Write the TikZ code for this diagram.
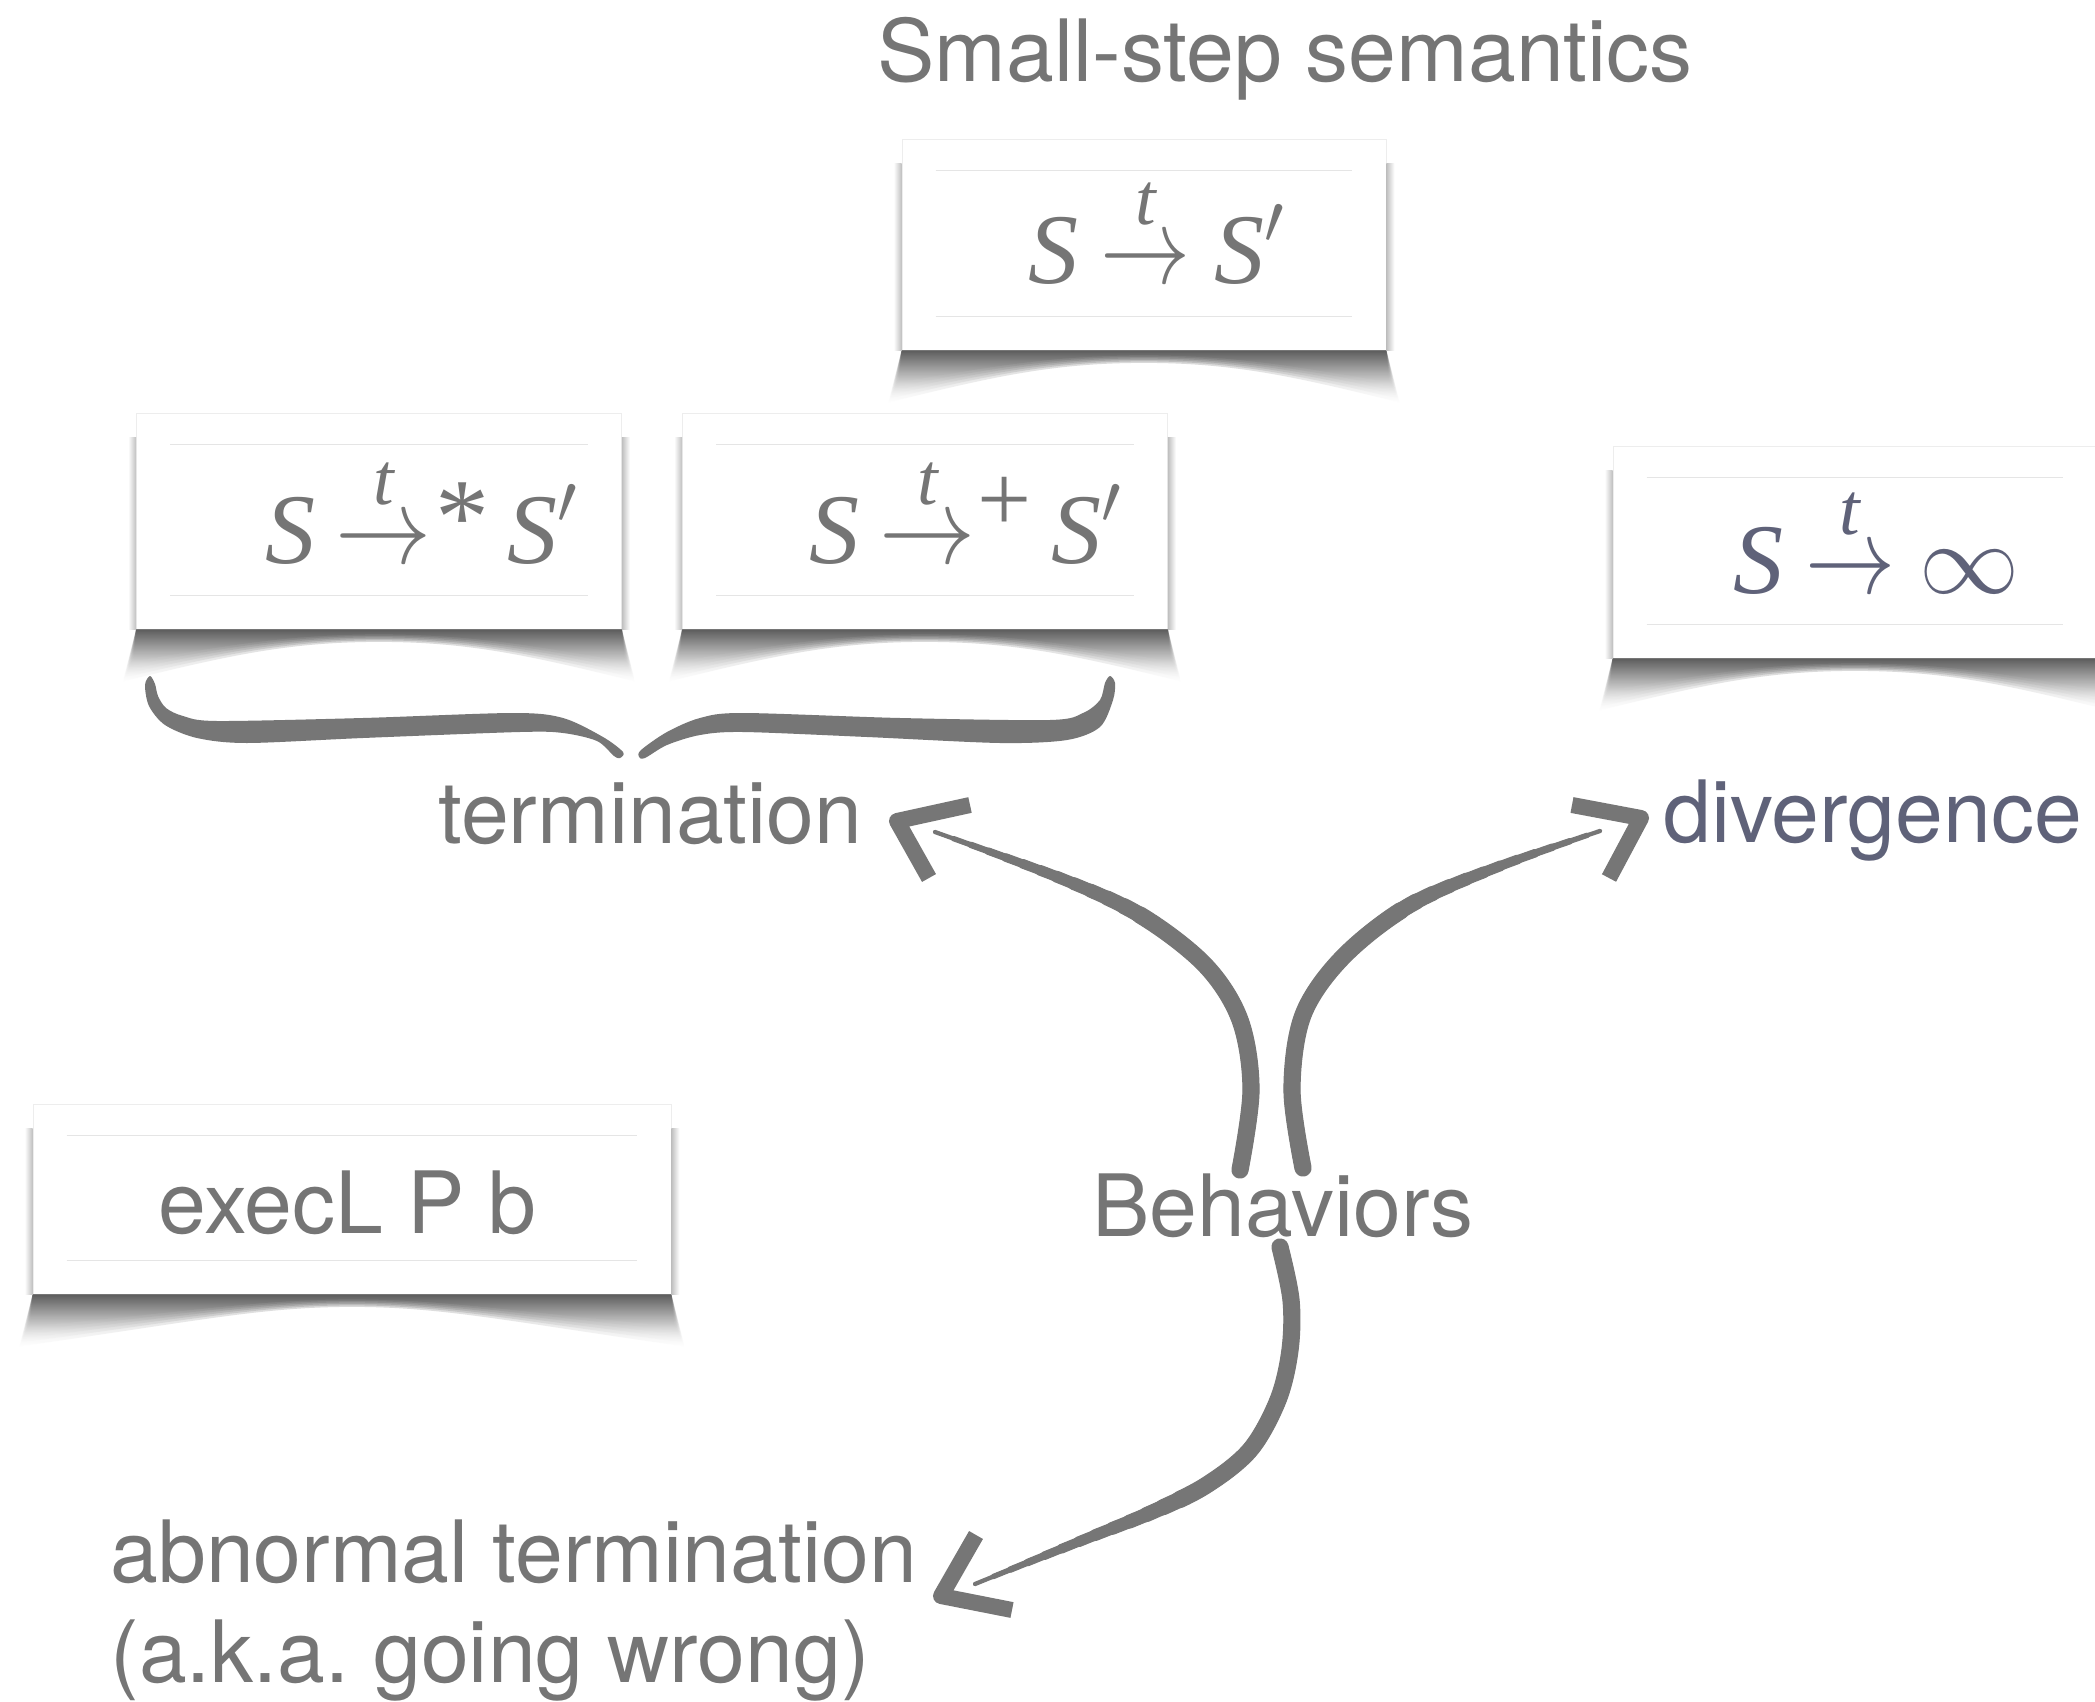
\documentclass[tikz,border=0pt]{standalone}
\usepackage{fix-cm}
\usepackage{amsmath}
\usepackage{graphicx}
\usepackage{fontspec}
\setmainfont{TeX Gyre Heros}
\newfontfamily\tms{Liberation Serif}
\usetikzlibrary{calc}
\frenchspacing
\definecolor{tgray}{HTML}{757575}
\definecolor{tblue}{HTML}{5F6279}
\definecolor{agray}{HTML}{767676}
\newcommand\Sv{{\tms\itshape S}}
\newcommand\Spr{$\mbox{\Sv}'$}
\newcommand\tarrow[1]{\mbox{\ooalign{\hidewidth\raisebox{29.5pt}{\fontsize{37}{37}\selectfont\tms\itshape t}\hidewidth\cr\scalebox{#1}[1.1]{$\to$}\cr}}}
\newcommand\cardshadow[1]{%
  \foreach \d in {0,...,5}{%
    \shade[top color=black!78, bottom color=white, opacity=0.24]
      (#1.south west) -- ($(#1.south west)+(-3-2*\d,32+4*\d)$)
      .. controls ($(#1.south)+(-150,16+2*\d)$) and ($(#1.south)+(-90,5+1.5*\d)$) .. ($(#1.south)+(0,5+1.5*\d)$)
      .. controls ($(#1.south)+(90,5+1.5*\d)$) and ($(#1.south)+(150,16+2*\d)$) .. ($(#1.south east)+(3+2*\d,32+4*\d)$)
      -- (#1.south east) -- cycle;}
  \shade[left color=white, right color=black!25] ($(#1.south west)+(-8,0)$) rectangle ($(#1.north west)+(0,25)$);
  \shade[right color=white, left color=black!25] ($(#1.south east)+(8,0)$) rectangle ($(#1.north east)+(0,25)$);
  \draw[rule] ($(#1.north west)+(34,32)$) -- ($(#1.north east)+(-34,32)$);
  \draw[rule] ($(#1.south west)+(34,-34)$) -- ($(#1.south east)+(-34,-34)$);}
% tapered brush stroke: thick for most of the way, thinning towards the end
\newcommand\taper[1]{%
  \foreach \k in {0,...,12} {%
    \pgfmathsetmacro\ww{8.6*(1-0.75*\k/12)}%
    \pgfmathsetmacro\ll{150+110*\k/12+(\k==12 ? 300 : 0)}%
    \draw[agray, line width=\ww pt, line cap=round, dash pattern=on \ll pt off 3000pt] #1;
  }}
\tikzset{
  lbl/.style={font=\fontsize{43}{50}\selectfont, text=tgray, inner sep=0pt, anchor=base west},
  fml/.style={font=\fontsize{50}{60}\selectfont, text=tgray, inner sep=0pt, anchor=base},
  card/.style={fill=white, draw=black!7, line width=0.4pt, inner sep=0pt},
  rule/.style={draw=black!10, line width=0.5pt},
  head/.style={draw=agray, line width=8pt, line join=round},
  brace/.style={fill=agray},
}
\begin{document}
\begin{tikzpicture}[x=0.5pt,y=-0.5pt]
\useasboundingbox (0,0) rectangle (2095,1702);
\fill[white] (0,0) rectangle (2095,1702);
\clip (0,0) rectangle (2095,1702);

% cards
\node[card, minimum width=242pt, minimum height=105.5pt] (bstep) at (1144,244.5) {};
\node[card, minimum width=242.5pt, minimum height=108pt] (bstar) at (379,521) {};
\node[card, minimum width=242.5pt, minimum height=108pt] (bplus) at (925,521) {};
\node[card, minimum width=242pt, minimum height=106pt] (binf) at (1855,552) {};
\node[card, minimum width=319pt, minimum height=95pt] (bexec) at (352,1199) {};
\cardshadow{bstep}
\cardshadow{bstar}
\cardshadow{bplus}
\cardshadow{binf}
\cardshadow{bexec}

% formulas
\node[fml] (fstep) at (1157,283) {\Sv\hspace{11pt}\tarrow{0.9}\hspace{12pt}\Spr};
\node[fml] (fstar) at (422,563) {\Sv\hspace{10pt}\tarrow{0.96}\hspace{2pt}\raisebox{5pt}{\fontsize{54}{54}\selectfont\tms *}\hspace{9pt}\Spr};
\node[fml] (fplus) at (966,563) {\Sv\hspace{10pt}\tarrow{0.96}\hspace{1pt}\raisebox{16pt}{\fontsize{48}{48}\selectfont\tms +}\hspace{10pt}\Spr};
\node[fml, text=tblue] (finf) at (1876,593) {\Sv\hspace{11pt}\tarrow{0.9}\hspace{12pt}$\infty$};

% labels
\node[lbl] (ttl) at (877,82) {Small-step semantics};
\node[lbl] (term) at (438,843) {termination};
\node[lbl, text=tblue] (div) at (1663,842) {divergence};
\node[lbl] (beh) at (1092,1236) {Behaviors};
\node[lbl] (exec) at (158,1233) {execL P b};
\node[lbl] (abn) at (110,1582) {abnormal termination};
\node[lbl] (aka) at (110,1682) {(a.k.a. going wrong)};

% brace
\fill[brace] plot[smooth cycle, tension=0.5] coordinates {
  (150,676) (155,684) (158,696) (166,708) (183,716) (217,721) (363,718) (513,713)
  (563,718) (603,737) (623,752) (620,758) (614,756) (597,741) (563,733) (520,732)
  (363,738) (247,743) (197,738) (165,725) (149,706) (145,685)};
\fill[brace] plot[smooth cycle, tension=0.5] coordinates {
  (641,750) (667,732) (700,718) (743,713) (900,718) (1050,720) (1083,713) (1100,700)
  (1105,683) (1110,676) (1115,683) (1113,700) (1100,727) (1067,740) (1000,743)
  (867,737) (743,732) (700,735) (667,745) (645,758) (639,757)};

% arrow shafts
\coordinate (s1) at (1240,1170);
\coordinate (e1) at (935,832);
\coordinate (s2) at (1303,1168);
\coordinate (e2) at (1600,831);
\coordinate (s3) at (1280,1247);
\coordinate (e3) at (975,1584);
\taper{plot[smooth, tension=0.55] coordinates {(s1) (1251,1090) (1240,1020) (1205,965) (1140,915) (1060,878) (e1)}}
\taper{plot[smooth, tension=0.55] coordinates {(s2) (1292,1090) (1303,1015) (1343,957) (1410,905) (1500,866) (e2)}}
\taper{plot[smooth, tension=0.55] coordinates {(s3) (1291,1300) (1290,1350) (1278,1400) (1250,1450) (1205,1486) (1150,1513) (1083,1540) (e3)}}

% arrow heads
\coordinate (h1a) at (970,805); \coordinate (h1) at (897,821); \coordinate (h1b) at (929,878);
\coordinate (h2a) at (1572,805); \coordinate (h2) at (1641,818); \coordinate (h2b) at (1609,878);
\coordinate (h3a) at (976,1535); \coordinate (h3) at (941,1596); \coordinate (h3b) at (1012,1610);
\draw[head] (h1a) -- (h1) -- (h1b);
\draw[head] (h2a) -- (h2) -- (h2b);
\draw[head] (h3a) -- (h3) -- (h3b);
\end{tikzpicture}
\end{document}
